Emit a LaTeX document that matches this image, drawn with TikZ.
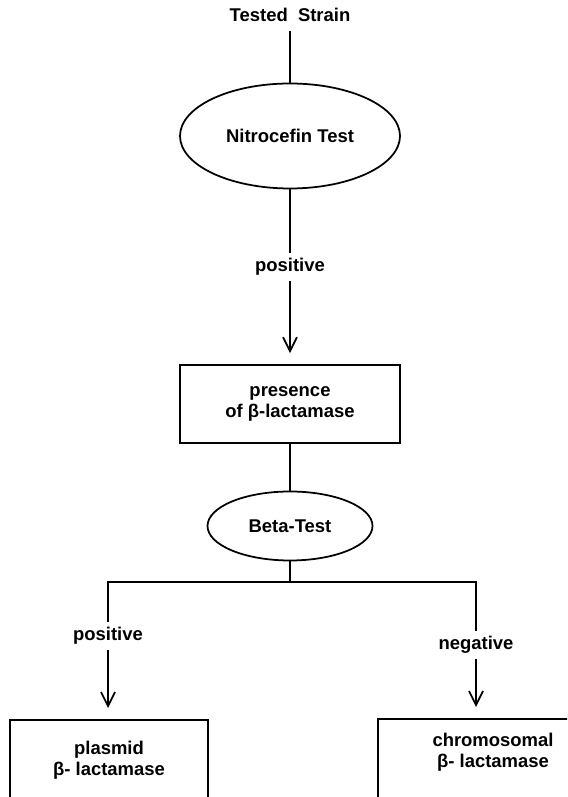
\documentclass[tikz,border=0pt]{standalone}
\usepackage{fontspec}
\setmainfont{Liberation Sans}
\usepackage{tikz}
\usetikzlibrary{shapes.geometric,arrows.meta}

\tikzset{
	test/.style={ellipse, draw, line width=1pt, inner sep=0pt},
	result/.style={rectangle, draw, line width=1pt, align=center},
	leaf/.style={result, anchor=north, text depth=2cm},
	tag/.style={inner sep=3pt},
	flow/.style={line width=1pt},
	arr/.style={flow, -{Straight Barb[length=2.8mm,width=2.8mm]}, shorten >=2.2mm}
}

\begin{document}
\begin{tikzpicture}[font=\fontsize{10.5}{12}\selectfont\bfseries]
			\useasboundingbox (0, 0) rectangle (11.34, 15.94);
			\clip (0, 0) rectangle (11.34, 15.94);

			\node[inner sep=5pt] (strain) at (5.8, 15.64) {Tested\ \ Strain};
			\node[test, minimum width=4.4cm, minimum height=2.1cm] (nitro) at (5.8, 13.22) {Nitrocefin Test};
			\node[tag] (pos) at (5.8, 10.6) {positive};
			\node[result, minimum width=4.4cm, minimum height=1.56cm] (presence) at (5.8, 7.86) {presence\\of β-lactamase};
			\node[test, minimum width=3.3cm, minimum height=1.38cm] (beta) at (5.8, 5.42) {Beta-Test};
			\coordinate (fork) at (5.8, 4.3);
			\node[tag] (lpos) at (2.16, 3.22) {positive};
			\node[tag] (rneg) at (9.52, 3.04) {negative};
			\node[leaf, minimum width=3.96cm, inner ysep=0.42cm] (plasmid) at (2.18, 1.56) {plasmid\\β- lactamase};
			\node[leaf, minimum width=4.6cm, inner ysep=0.28cm] (chrom) at (9.86, 1.58) {chromosomal\\β- lactamase};

			% main line
			\draw[flow] (strain) -- (nitro);
			\draw[flow] (nitro) -- (pos);
			\draw[arr] (pos) -- (presence);
			\draw[flow] (presence) -- (beta);
			\draw[flow] (beta) -- (fork);

			% branches
			\draw[flow] (lpos) |- (fork) -| (rneg);
			\draw[arr] (lpos) -- (lpos |- plasmid.north);
			\draw[arr] (rneg) -- (rneg |- chrom.north);

		\end{tikzpicture}
\end{document}
